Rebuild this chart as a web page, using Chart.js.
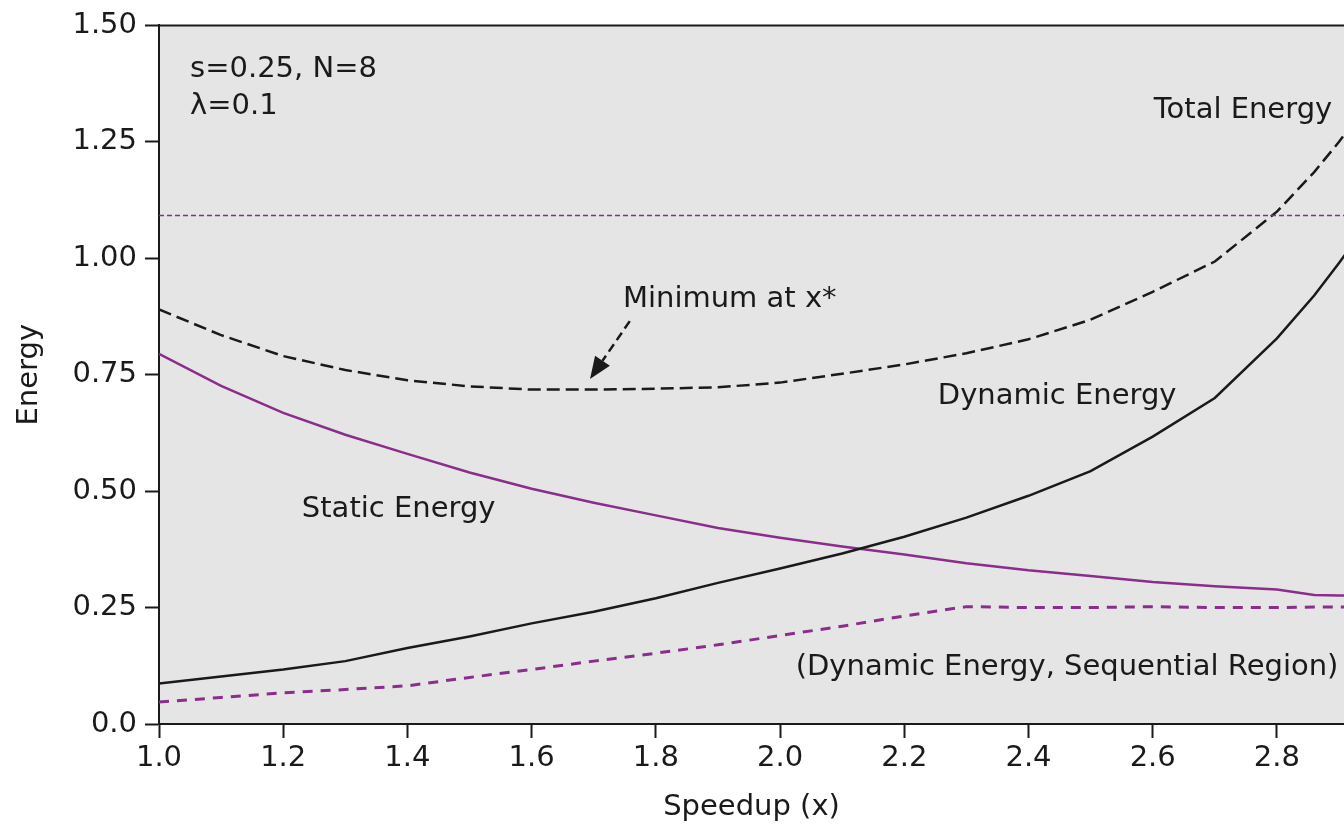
<!DOCTYPE html>
<html>
<head>
<meta charset="utf-8">
<script src="https://cdn.jsdelivr.net/npm/chart.js@4.4.1/dist/chart.umd.min.js"></script>
<style>
  html, body { margin: 0; padding: 0; background: #ffffff; }
  canvas { display: block; }
</style>
</head>
<body>
<canvas id="energyChart" width="1344" height="828"></canvas>
<script>
// data
const speedup = [1.0, 1.1, 1.2, 1.3, 1.4, 1.5, 1.6, 1.7, 1.8, 1.9, 2.0, 2.1, 2.2, 2.3, 2.4, 2.5, 2.6, 2.7, 2.8, 2.86, 2.9, 2.95];
const totalEnergy   = [0.890, 0.835, 0.790, 0.760, 0.738, 0.725, 0.718, 0.718, 0.720, 0.723, 0.733, 0.752, 0.772, 0.796, 0.826, 0.868, 0.928, 0.993, 1.100, 1.185, 1.250, 1.340];
const dynamicEnergy = [0.087, 0.102, 0.117, 0.135, 0.163, 0.188, 0.216, 0.241, 0.270, 0.303, 0.334, 0.366, 0.402, 0.443, 0.490, 0.543, 0.617, 0.700, 0.828, 0.920, 0.990, 1.080];
const staticEnergy  = [0.795, 0.726, 0.668, 0.621, 0.580, 0.540, 0.505, 0.475, 0.448, 0.421, 0.400, 0.381, 0.364, 0.345, 0.330, 0.318, 0.305, 0.296, 0.289, 0.277, 0.276, 0.276];
const seqDynamic    = [0.047, 0.057, 0.067, 0.074, 0.082, 0.100, 0.117, 0.135, 0.152, 0.170, 0.190, 0.210, 0.232, 0.252, 0.250, 0.250, 0.252, 0.250, 0.250, 0.251, 0.251, 0.251];
const limitLevel = 1.092;

const xTickLabels = ['1.0', '1.2', '1.4', '1.6', '1.8', '2.0', '2.2', '2.4', '2.6', '2.8'];
const yTickLabels = ['0.0', '0.25', '0.50', '0.75', '1.00', '1.25', '1.50'];

// text notes inside the plot: [text, x, y, align]
const notes = [
    ['s=0.25, N=8', 1.05, 1.406, 'left'],
    ['λ=0.1', 1.05, 1.326, 'left'],
    ['Total Energy', 2.889, 1.317, 'right'],
    ['Minimum at x*', 1.747, 0.911, 'left'],
    ['Dynamic Energy', 2.254, 0.703, 'left'],
    ['Static Energy', 1.230, 0.461, 'left'],
    ['(Dynamic Energy, Sequential Region)', 2.899, 0.121, 'right']
];
// arrow pointing at the minimum: from -> to
const arrowFrom = [1.758, 0.865];
const arrowTo = [1.694, 0.741];

const PURPLE = '#8b2d8b';
const INK = '#1a1a1a';
const FONT = '"DejaVu Sans", "Open Sans", sans-serif';

const toPoints = (vals) => speedup.map((x, i) => ({ x: x, y: vals[i] }));

// plot background, top frame line, notes and arrow
const decorations = {
    id: 'decorations',
    beforeDraw(chart) {
        const { ctx, chartArea } = chart;
        ctx.save();
        ctx.fillStyle = '#e5e5e5';
        ctx.fillRect(chartArea.left, chartArea.top, chartArea.right - chartArea.left, chartArea.bottom - chartArea.top);
        ctx.restore();
    },
    afterDatasetsDraw(chart) {
        const { ctx, chartArea, scales } = chart;
        const xs = scales.x, ys = scales.y;
        ctx.save();
        // top frame
        ctx.strokeStyle = INK;
        ctx.lineWidth = 2;
        ctx.beginPath();
        ctx.moveTo(chartArea.left, chartArea.top);
        ctx.lineTo(chartArea.right, chartArea.top);
        ctx.stroke();

        // notes
        ctx.fillStyle = INK;
        ctx.font = '29px ' + FONT;
        ctx.textBaseline = 'middle';
        notes.forEach(([txt, x, y, align]) => {
            ctx.textAlign = align;
            ctx.fillText(txt, xs.getPixelForValue(x), ys.getPixelForValue(y));
        });

        // arrow
        const x0 = xs.getPixelForValue(arrowFrom[0]), y0 = ys.getPixelForValue(arrowFrom[1]);
        const x1 = xs.getPixelForValue(arrowTo[0]), y1 = ys.getPixelForValue(arrowTo[1]);
        const ang = Math.atan2(y1 - y0, x1 - x0);
        const headLen = 22, headW = 9;
        const bx = x1 - headLen * Math.cos(ang), by = y1 - headLen * Math.sin(ang);
        ctx.strokeStyle = INK;
        ctx.lineWidth = 2.5;
        ctx.setLineDash([9, 5]);
        ctx.beginPath();
        ctx.moveTo(x0, y0);
        ctx.lineTo(bx, by);
        ctx.stroke();
        ctx.setLineDash([]);
        ctx.beginPath();
        ctx.moveTo(x1, y1);
        ctx.lineTo(bx + headW * Math.sin(ang), by - headW * Math.cos(ang));
        ctx.lineTo(bx - headW * Math.sin(ang), by + headW * Math.cos(ang));
        ctx.closePath();
        ctx.fill();
        ctx.restore();
    }
};

const ctx = document.getElementById('energyChart').getContext('2d');

new Chart(ctx, {
    type: 'line',
    data: {
        datasets: [
            {
                label: 'Limit',
                data: [{ x: speedup[0], y: limitLevel }, { x: speedup[speedup.length - 1], y: limitLevel }],
                borderColor: PURPLE,
                borderWidth: 1.5,
                borderDash: [5, 3]
            },
            {
                label: 'Total Energy',
                data: toPoints(totalEnergy),
                borderColor: INK,
                borderWidth: 2.5,
                borderDash: [13, 6]
            },
            {
                label: 'Dynamic Energy',
                data: toPoints(dynamicEnergy),
                borderColor: INK,
                borderWidth: 2.5
            },
            {
                label: 'Static Energy',
                data: toPoints(staticEnergy),
                borderColor: PURPLE,
                borderWidth: 2.5
            },
            {
                label: 'Dynamic Energy, Sequential Region',
                data: toPoints(seqDynamic),
                borderColor: PURPLE,
                borderWidth: 3,
                borderDash: [10, 8]
            }
        ]
    },
    options: {
        responsive: false,
        animation: false,
        events: [],
        layout: { padding: { top: 18, right: 0, left: 0, bottom: 0 } },
        elements: {
            point: { radius: 0 },
            line: { tension: 0, fill: false }
        },
        plugins: {
            legend: { display: false },
            tooltip: { enabled: false }
        },
        scales: {
            x: {
                type: 'linear',
                min: 1.0,
                max: 2.908,
                afterFit: (scale) => { scale.height = 104; },
                border: { display: true, color: INK, width: 2 },
                grid: { drawOnChartArea: false, drawTicks: true, tickLength: 14, tickColor: INK, tickWidth: 2 },
                ticks: {
                    stepSize: 0.2,
                    includeBounds: false,
                    padding: 3,
                    color: INK,
                    font: { family: FONT, size: 29 },
                    maxRotation: 0,
                    autoSkip: false,
                    callback: (value) => xTickLabels.find(l => Math.abs(Number(l) - value) < 1e-6) || ''
                },
                title: {
                    display: true,
                    text: 'Speedup (x)',
                    color: INK,
                    font: { family: FONT, size: 29 },
                    padding: { top: 0, bottom: 3 }
                }
            },
            y: {
                min: 0,
                max: 1.5,
                afterFit: (scale) => { scale.width = 159; },
                border: { display: true, color: INK, width: 2 },
                grid: { drawOnChartArea: false, drawTicks: true, tickLength: 14, tickColor: INK, tickWidth: 2 },
                ticks: {
                    stepSize: 0.25,
                    padding: 8,
                    color: INK,
                    font: { family: FONT, size: 29 },
                    callback: (value) => yTickLabels[Math.round(value / 0.25)]
                },
                title: {
                    display: true,
                    text: 'Energy',
                    color: INK,
                    font: { family: FONT, size: 29 },
                    padding: { top: 12, bottom: 0 }
                }
            }
        }
    },
    plugins: [decorations]
});
</script>
</body>
</html>
